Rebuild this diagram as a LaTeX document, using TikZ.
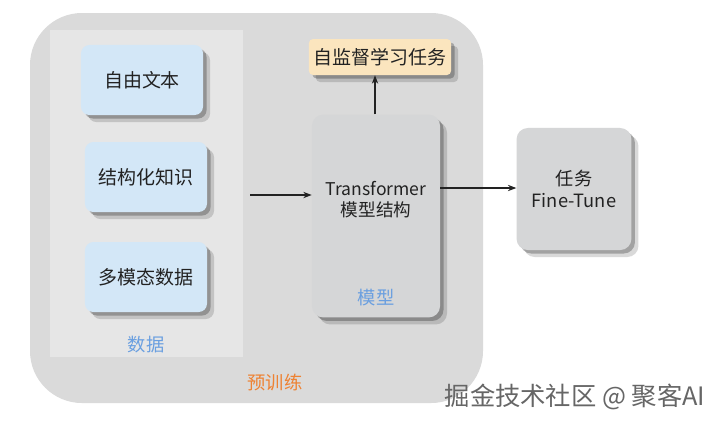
\documentclass[tikz,border=0pt]{standalone}
\usepackage{fontspec}
\setmainfont{Noto Sans CJK SC}
\usetikzlibrary{arrows.meta,positioning,shadows}
\definecolor{outer}{HTML}{DADADA}
\definecolor{panel}{HTML}{E6E6E6}
\definecolor{datafill}{HTML}{D3E7F7}
\definecolor{taskfill}{HTML}{FBE5BE}
\definecolor{modelfill}{HTML}{D5D6D7}
\definecolor{bluelab}{HTML}{6A9FE0}
\definecolor{orangelab}{HTML}{EE8233}
\definecolor{ink}{HTML}{222222}
\tikzset{
  >={Stealth[length=6pt,width=4.5pt]},
  every node/.style={text=ink},
  softshadow/.style={drop shadow={shadow xshift=5pt,shadow yshift=-5pt,fill=black,opacity=.15},
                     drop shadow={shadow xshift=2.5pt,shadow yshift=-2.5pt,fill=black,opacity=.25}},
  databox/.style={rounded corners=6pt,fill=datafill,minimum width=3.05cm,minimum height=1.75cm,font=\fontsize{13.5}{16}\selectfont,softshadow},
  taskbox/.style={rounded corners=3pt,fill=taskfill,minimum width=3.5cm,minimum height=0.9cm,font=\fontsize{13.5}{16}\selectfont,softshadow},
  modelbox/.style={rounded corners=8pt,fill=modelfill,align=center,font=\fontsize{13}{15.5}\selectfont,softshadow},
  arrow/.style={->,thick,draw=ink},
  tag/.style={font=\fontsize{13}{15}\selectfont},
}
\begin{document}
\begin{tikzpicture}[x=0.025cm,y=-0.025cm]
\useasboundingbox[fill=white] (0,0) rectangle (720,424);

% pretraining frame
\fill[outer,rounded corners=1.3cm] (30,13) rectangle (483,403);
\fill[panel] (50,30) rectangle (243,357);
\node[tag,text=orangelab] (pre) at (275,382) {预训练};
\node[tag,text=bluelab] (datalab) at (146,345) {数据};

% data sources
\node[databox] (free) at (142,80) {自由文本};
\node[databox] (kg) at (146,177) {结构化知识};
\node[databox] (mm) at (146,277) {多模态数据};

% model
\node[modelbox,minimum width=3.2cm,minimum height=5.07cm] (tf) at (376,216) {};
\node[align=center,font=\fontsize{12.5}{15}\selectfont] (tftext) at (376,200) {Transformer\\模型结构};
\node[tag,text=bluelab] (modellab) at (376,298) {模型};
\node[taskbox] (sst) at (380,57) {自监督学习任务};

% fine-tune
\node[modelbox,minimum width=2.87cm,minimum height=3.05cm] (ft) at (574,189) {任务\\Fine-Tune};

\draw[arrow] (250,195) -- (tf.west |- 0,195);
\draw[arrow] (tf.north -| 375,0) -- (sst.south -| 375,0);
\draw[arrow] (tf.east |- 0,188) -- (ft.west |- 0,188);

\node[font=\fontsize{18}{20}\selectfont,text=black!60] (wm) at (575,397) {掘金技术社区 @ 聚客AI};
\end{tikzpicture}
\end{document}
